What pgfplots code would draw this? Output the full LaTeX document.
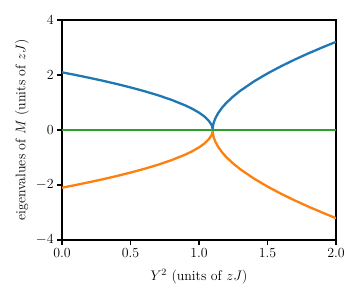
\RequirePackage{fix-cm}
\documentclass[border=0pt]{standalone}
\usepackage{pgfplots}
\pgfplotsset{compat=1.18}
\definecolor{tabblue}{HTML}{1F77B4}
\definecolor{taborange}{HTML}{FF7F0E}
\definecolor{tabgreen}{HTML}{2CA02C}
\begin{document}
\begin{tikzpicture}[font=\fontsize{13.9}{16}\selectfont]
\path[use as bounding box] (-62pt,-60pt) rectangle (298pt,240pt);
\begin{axis}[
  at={(0,0)}, anchor=south west,
  width=274pt, height=220pt, scale only axis,
  xmin=0, xmax=2, ymin=-4, ymax=4,
  xtick={0,0.5,1,1.5,2}, xticklabels={0.0,0.5,1.0,1.5,2.0},
  ytick={-4,-2,0,2,4},
  tick align=outside, tick pos=left,
  major tick length=4.9pt,
  axis line style={line width=1.1pt},
  every tick/.style={black, line width=1.1pt},
  tick label style={font=\fontsize{13.9}{16}\selectfont},
  label style={font=\fontsize{13.9}{16}\selectfont},
  xlabel={$Y^2$ (units of $zJ$)},
  ylabel={eigenvalues of $M$ (units of $zJ$)},
  xlabel style={at={(axis description cs:0.5,-0.168)}, anchor=center},
  ylabel style={at={(axis description cs:-0.146,0.5)}, anchor=center},
]
% blue: positive branch
\addplot[tabblue, line width=2.3pt] coordinates {
(0,2.098) (0.1,2.0) (0.2,1.897) (0.3,1.789) (0.4,1.673) (0.5,1.549) (0.6,1.414)
(0.7,1.265) (0.8,1.095) (0.9,0.894) (0.95,0.775) (1.0,0.632) (1.04,0.490)
(1.07,0.346) (1.09,0.2) (1.095,0.141) (1.099,0.063) (1.1,0)
(1.101,0.095) (1.105,0.214) (1.11,0.304) (1.12,0.432) (1.14,0.616) (1.17,0.822)
(1.2,0.989) (1.25,1.222) (1.3,1.422) (1.4,1.763) (1.5,2.057) (1.6,2.321)
(1.7,2.564) (1.8,2.790) (1.9,3.003) (2.0,3.206)
};
% orange: negative branch
\addplot[taborange, line width=2.3pt] coordinates {
(0,-2.098) (0.1,-2.0) (0.2,-1.897) (0.3,-1.789) (0.4,-1.673) (0.5,-1.549) (0.6,-1.414)
(0.7,-1.265) (0.8,-1.095) (0.9,-0.894) (0.95,-0.775) (1.0,-0.632) (1.04,-0.490)
(1.07,-0.346) (1.09,-0.2) (1.095,-0.141) (1.099,-0.063) (1.1,0)
(1.101,-0.095) (1.105,-0.214) (1.11,-0.304) (1.12,-0.432) (1.14,-0.616) (1.17,-0.822)
(1.2,-0.989) (1.25,-1.222) (1.3,-1.422) (1.4,-1.763) (1.5,-2.057) (1.6,-2.321)
(1.7,-2.564) (1.8,-2.790) (1.9,-3.003) (2.0,-3.206)
};
% green: zero eigenvalue
\addplot[tabgreen, line width=2.3pt] coordinates {(0,0) (2,0)};
\end{axis}
\end{tikzpicture}
\end{document}
